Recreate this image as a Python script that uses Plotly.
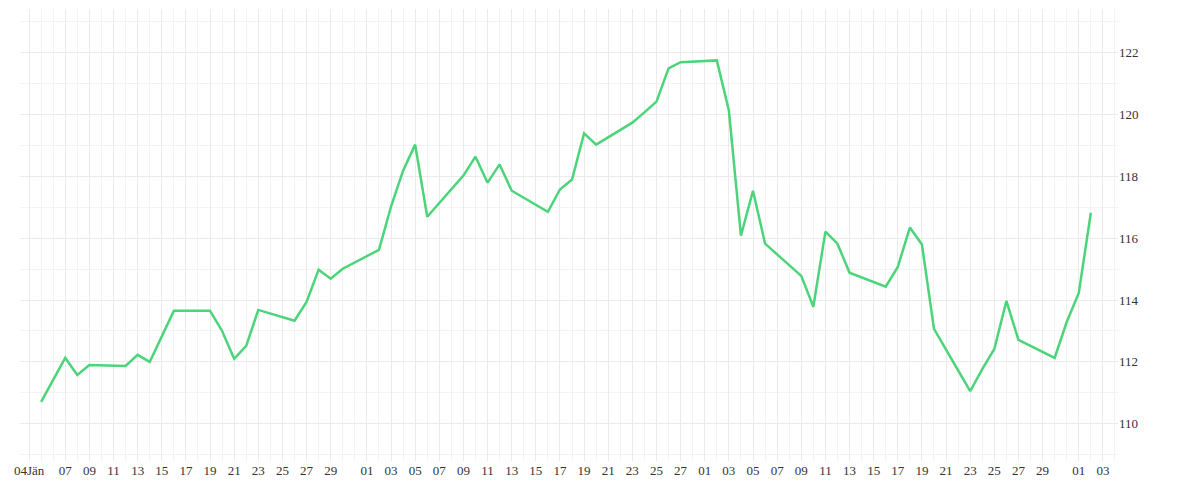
import plotly.graph_objects as go

dates = ["2015-01-05","2015-01-07","2015-01-08","2015-01-09","2015-01-12","2015-01-13","2015-01-14","2015-01-16",
"2015-01-19","2015-01-20","2015-01-21","2015-01-22","2015-01-23","2015-01-26","2015-01-27","2015-01-28","2015-01-29","2015-01-30",
"2015-02-02","2015-02-03","2015-02-04","2015-02-05","2015-02-06","2015-02-09","2015-02-10","2015-02-11","2015-02-12","2015-02-13",
"2015-02-16","2015-02-17","2015-02-18","2015-02-19","2015-02-20","2015-02-23","2015-02-24","2015-02-25","2015-02-26","2015-02-27",
"2015-03-02","2015-03-03","2015-03-04","2015-03-05","2015-03-06","2015-03-09","2015-03-10","2015-03-11","2015-03-12","2015-03-13",
"2015-03-16","2015-03-17","2015-03-18","2015-03-19","2015-03-20","2015-03-23","2015-03-24","2015-03-25","2015-03-26","2015-03-27",
"2015-03-30","2015-03-31","2015-04-01","2015-04-02"]
values = [110.71,112.13,111.58,111.90,111.87,112.23,112.00,113.65,
113.65,113.00,112.10,112.52,113.68,113.33,113.94,114.98,114.69,115.01,
115.62,117.02,118.18,119.02,116.69,118.02,118.63,117.79,118.38,117.53,
116.85,117.57,117.89,119.38,119.02,119.73,120.06,120.41,121.48,121.68,
121.74,120.12,116.08,117.53,115.82,114.78,113.78,116.21,115.82,114.88,
114.43,115.07,116.34,115.79,113.07,111.06,111.77,112.42,113.97,112.71,
112.13,113.29,114.23,116.82]

tick_dates = ["2015-01-04"] + [f"2015-01-{d:02d}" for d in range(7, 30, 2)] \
    + [f"2015-02-{d:02d}" for d in range(1, 28, 2)] \
    + [f"2015-03-{d:02d}" for d in range(1, 30, 2)] \
    + ["2015-04-01", "2015-04-03"]
tick_text = ["04Jän"] + [d[-2:] for d in tick_dates[1:]]

tfont = dict(family="Liberation Serif, DejaVu Serif, serif", size=13, color="#333333")

fig = go.Figure(go.Scatter(x=dates, y=values, mode="lines",
                           line=dict(color="#4cd47a", width=2.5)))
fig.update_layout(
    width=1200, height=500, plot_bgcolor="white", paper_bgcolor="white",
    margin=dict(l=12, r=90, t=1, b=47), showlegend=False,
    font=tfont,
)
fig.update_xaxes(range=["2015-01-03 06:00", "2015-04-04 06:00"], tickvals=tick_dates, ticktext=tick_text,
                 tickangle=0, tickfont=tfont, showgrid=True, gridcolor="#ebebeb", zeroline=False,
                 minor=dict(dtick=86400000, showgrid=True, gridcolor="#f3f3f3"))
fig.update_yaxes(side="right", range=[108.8, 123.4], tickvals=[110,112,114,116,118,120,122],
                 tickfont=tfont, showgrid=True, gridcolor="#ebebeb", zeroline=False,
                 minor=dict(dtick=1, showgrid=True, gridcolor="#f3f3f3"))
fig.write_html("out.html")
